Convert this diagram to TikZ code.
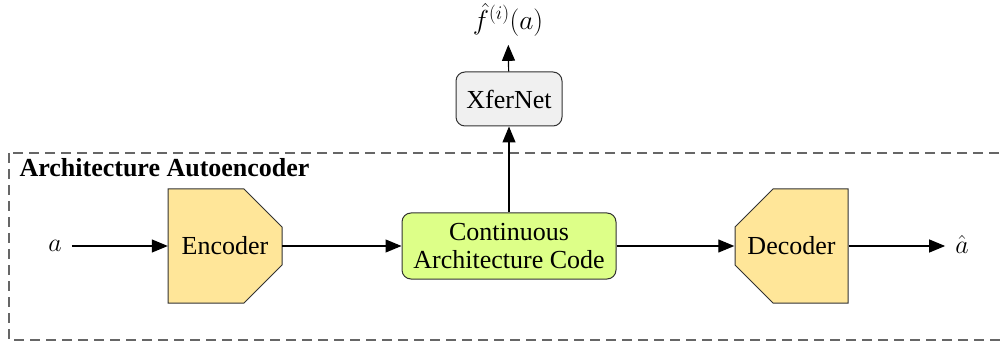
\RequirePackage{fix-cm}
\documentclass[tikz,border=0pt]{standalone}
\usepackage{fontspec}
\setmainfont{Liberation Serif}
\usetikzlibrary{arrows.meta}
\definecolor{encfill}{RGB}{255,230,153}
\definecolor{codefill}{RGB}{221,255,136}
\definecolor{xfill}{RGB}{240,240,240}
\definecolor{edge}{RGB}{50,50,50}
\begin{document}
\begin{tikzpicture}[x=1pt,y=-1pt,
  arr/.style={-{Triangle[length=16pt,width=13pt]}, line width=1.2pt},
  txt/.style={font=\fontsize{26}{28}\selectfont},
  hexbox/.style={draw=none, minimum width=114pt, minimum height=114pt, inner sep=0pt, txt},
  rbox/.style={draw=edge, line width=1pt, rounded corners=9pt, inner sep=0pt, align=center, txt},
  shapeline/.style={draw=edge, line width=1pt, fill=encfill}]
\useasboundingbox (0,0) rectangle (1003,347);
% frame
\draw[dash pattern=on 10pt off 6pt, draw=black!60, line width=1.2pt] (9,153) rectangle (1005,340);
\node[anchor=west, font=\fontsize{26}{28}\selectfont\bfseries] (title) at (16,168) {Architecture Autoencoder};
% encoder
\path[shapeline] (168,189) -- (244,189) -- (282,227) -- (282,265) -- (244,303) -- (168,303) -- cycle;
\node[hexbox] (enc) at (225,246) {Encoder};
% decoder
\path[shapeline] (848,189) -- (773,189) -- (735,227) -- (735,265) -- (773,303) -- (848,303) -- cycle;
\node[hexbox] (dec) at (791.5,246) {Decoder};
% code
\node[rbox, fill=codefill, minimum width=214pt, minimum height=66pt] (code) at (509,246) {Continuous\\Architecture Code};
% xfernet
\node[rbox, fill=xfill, minimum width=106pt, minimum height=54pt] (xfer) at (509,99) {XferNet};
% labels
\node[font=\fontsize{27.5}{30}\selectfont, inner sep=0pt] (out) at (508,20) {$\hat f^{(i)}(a)$};
\node[txt, inner sep=0pt] (a) at (55,246) {$a$};
\node[txt, inner sep=0pt] (ahat) at (962,244) {$\hat a$};
% connectors
\draw[arr, shorten <=10pt] (a) -- (enc);
\draw[arr] (enc) -- (code);
\draw[arr] (code) -- (dec);
\draw[arr, shorten >=10pt] (dec) -- (dec -| ahat.west);
\draw[arr] (code) -- (xfer);
\draw[arr, shorten >=8pt] (xfer) -- (out);
\end{tikzpicture}
\end{document}
